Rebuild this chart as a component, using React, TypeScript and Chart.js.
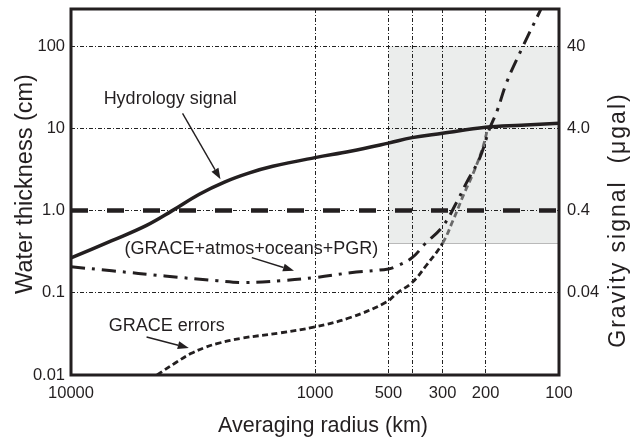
import React, { useEffect, useRef } from 'react';
import { Chart, registerables } from 'chart.js';

Chart.register(...registerables);

const FONT = '"Liberation Sans", Arial, Helvetica, sans-serif';
const INK = '#231f20';

// ---- axes / ticks ----
const xTickValues = [10000, 1000, 500, 400, 300, 200, 100];
const xTickLabels = ['10000', '1000', '500', '', '300', '200', '100'];
const yTickValues = [0.01, 0.1, 1, 10, 100];
const yTickLabels = ['0.01', '0.1', '1.0', '10', '100'];
const y2TickValues = [0.04, 0.4, 4, 40];
const y2TickLabels = ['0.04', '0.4', '4.0', '40'];

// ---- series (x = averaging radius km, y = water thickness cm) ----
const hydroRadius = [10000, 6800, 4900, 3860, 2980, 2350, 1870, 1490, 1000, 716, 500, 400, 300, 200, 143, 100];
const hydroValue = [0.265, 0.43, 0.66, 0.99, 1.58, 2.22, 2.85, 3.45, 4.4, 5.25, 6.6, 7.7, 8.7, 10.3, 10.9, 11.5];

const thresholdRadius = [10000, 100];
const thresholdValue = [1.0, 1.0];

const totalRadius = [10000, 6800, 4130, 2520, 1945, 1390, 1000, 716, 500, 459, 400, 352, 300, 263, 239, 211, 193, 179, 164, 143, 119, 110];
const totalValue = [0.207, 0.185, 0.16, 0.14, 0.133, 0.14, 0.153, 0.175, 0.195, 0.213, 0.267, 0.4, 0.64, 1.25, 2.2, 4.4, 9.7, 16.5, 36, 89, 275, 450];

const errRadius = [4440, 3740, 3230, 2800, 2520, 2000, 1390, 1000, 716, 510, 459, 400, 352, 300, 272, 245, 224, 205, 196];
const errValue = [0.01, 0.014, 0.0182, 0.0218, 0.0241, 0.028, 0.0325, 0.0385, 0.05, 0.077, 0.1, 0.133, 0.21, 0.4, 0.755, 1.6, 2.9, 5.9, 10];

// ---- shaded region ----
const shadeRadius = [500, 100];
const shadeValue = [0.4, 100];

// ---- annotations ----
const annoText = ['Hydrology signal', '(GRACE+atmos+oceans+PGR)', 'GRACE errors'];
const annoTextRadius = [7350, 6030, 7000];
const annoTextValue = [19.6, 0.299, 0.0343];
const arrowFromRadius = [3490, 1815, 4900];
const arrowFromValue = [15.2, 0.267, 0.029];
const arrowToRadius = [2440, 1219, 3290];
const arrowToValue = [2.4, 0.185, 0.0213];

const toPts = (xs: number[], ys: number[]) => xs.map((x, i) => ({ x, y: ys[i] }));

const decorPlugin = {
  id: 'decor',
  beforeDraw(chart: any) {
    const { ctx, scales } = chart;
    const x = scales.x, y = scales.y;
    const xa = x.getPixelForValue(shadeRadius[0]);
    const xb = x.getPixelForValue(shadeRadius[1]);
    const yt = y.getPixelForValue(shadeValue[1]);
    const yb = y.getPixelForValue(shadeValue[0]);
    ctx.save();
    ctx.fillStyle = '#ebedec';
    ctx.fillRect(Math.min(xa, xb), yt, Math.abs(xb - xa), yb - yt);
    ctx.strokeStyle = '#b9b9b9';
    ctx.lineWidth = 1;
    ctx.beginPath();
    ctx.moveTo(xa, Math.round(yb) + 0.5);
    ctx.lineTo(xb, Math.round(yb) + 0.5);
    ctx.stroke();
    ctx.restore();
  },
  afterDatasetsDraw(chart: any) {
    const { ctx, chartArea: a, scales } = chart;
    const x = scales.x, y = scales.y;
    ctx.save();
    // frame
    ctx.strokeStyle = INK;
    ctx.lineWidth = 3;
    ctx.strokeRect(a.left, a.top, a.right - a.left, a.bottom - a.top);
    // annotations
    ctx.fillStyle = INK;
    ctx.font = `18px ${FONT}`;
    ctx.textAlign = 'left';
    ctx.textBaseline = 'alphabetic';
    for (let i = 0; i < annoText.length; i++) {
      ctx.fillText(annoText[i], x.getPixelForValue(annoTextRadius[i]), y.getPixelForValue(annoTextValue[i]));
      const x0 = x.getPixelForValue(arrowFromRadius[i]);
      const y0 = y.getPixelForValue(arrowFromValue[i]);
      const x1 = x.getPixelForValue(arrowToRadius[i]);
      const y1 = y.getPixelForValue(arrowToValue[i]);
      const ang = Math.atan2(y1 - y0, x1 - x0);
      const hl = 11, hw = 4;
      const bx = x1 - hl * Math.cos(ang), by = y1 - hl * Math.sin(ang);
      ctx.strokeStyle = INK;
      ctx.lineWidth = 1.4;
      ctx.beginPath();
      ctx.moveTo(x0, y0);
      ctx.lineTo(bx, by);
      ctx.stroke();
      ctx.beginPath();
      ctx.moveTo(x1, y1);
      ctx.lineTo(bx + hw * Math.sin(ang), by - hw * Math.cos(ang));
      ctx.lineTo(bx - hw * Math.sin(ang), by + hw * Math.cos(ang));
      ctx.closePath();
      ctx.fill();
    }
    ctx.restore();
  },
  afterDraw(chart: any) {
    const { ctx, chartArea: a } = chart;
    ctx.save();
    ctx.fillStyle = INK;
    ctx.textAlign = 'center';
    ctx.textBaseline = 'alphabetic';
    // bottom title
    ctx.font = `21.5px ${FONT}`;
    ctx.fillText('Averaging radius (km)', (a.left + a.right) / 2 + 8, a.bottom + 57);
    // left title
    ctx.font = `23.5px ${FONT}`;
    ctx.save();
    ctx.translate(a.left - 39, (a.top + a.bottom) / 2 - 8);
    ctx.rotate(-Math.PI / 2);
    ctx.fillText('Water thickness (cm)', 0, 0);
    ctx.restore();
    // right title
    ctx.save();
    ctx.font = `23px ${FONT}`;
    try { (ctx as any).letterSpacing = '2px'; } catch (e) {}
    ctx.translate(a.right + 66, (a.top + a.bottom) / 2 + 28);
    ctx.rotate(-Math.PI / 2);
    ctx.fillText('Gravity signal  (\u03bcgal)', 0, 0);
    ctx.restore();
    ctx.restore();
  },
};

export default function App() {
  const ref = useRef<HTMLCanvasElement | null>(null);

  useEffect(() => {
    document.body.style.margin = '0';
    const canvas = ref.current;
    if (!canvas) return;
    const tickFont = { family: FONT, size: 16.5 };
    const chart = new Chart(canvas, {
      type: 'line',
      data: {
        datasets: [
          {
            label: 'Hydrology signal',
            data: toPts(hydroRadius, hydroValue),
            borderColor: INK,
            borderWidth: 3.5,
            pointRadius: 0,
            tension: 0.4,
            fill: false,
          },
          {
            label: 'Threshold',
            data: toPts(thresholdRadius, thresholdValue),
            borderColor: INK,
            borderWidth: 4.5,
            borderDash: [17, 19],
            pointRadius: 0,
            fill: false,
          },
          {
            label: 'GRACE+atmos+oceans+PGR',
            data: toPts(totalRadius, totalValue),
            borderColor: INK,
            borderWidth: 3,
            borderDash: [14, 7, 3, 7],
            pointRadius: 0,
            tension: 0.4,
            fill: false,
          },
          {
            label: 'GRACE errors',
            data: toPts(errRadius, errValue),
            borderColor: INK,
            borderWidth: 2.8,
            borderDash: [6, 3.5],
            pointRadius: 0,
            tension: 0.4,
            fill: false,
            segment: {
              borderColor: (c: any) => (c.p0.parsed.y >= 0.39 ? '#6a6a6a' : INK),
            },
          },
        ],
      } as any,
      options: {
        animation: false,
        responsive: false,
        events: [],
        layout: { padding: { top: 9, left: 0, right: 0, bottom: 0 } },
        plugins: {
          legend: { display: false },
          tooltip: { enabled: false },
          title: { display: false },
        },
        scales: {
          x: {
            type: 'logarithmic',
            position: 'bottom',
            reverse: true,
            min: 100,
            max: 10000,
            afterBuildTicks: (s: any) => {
              s.ticks = xTickValues.map((v) => ({ value: v }));
            },
            afterFit: (s: any) => {
              s.height = 63;
              s.paddingLeft = 0;
              s.paddingRight = 0;
            },
            ticks: {
              autoSkip: false,
              maxRotation: 0,
              minRotation: 0,
              padding: 9,
              color: INK,
              font: tickFont,
              callback: (v: any) => {
                const i = xTickValues.indexOf(Number(v));
                return i >= 0 ? xTickLabels[i] : '';
              },
            },
            grid: { color: '#222', lineWidth: 1, drawTicks: false },
            border: { display: false, dash: [4, 2, 1, 2] },
          },
          y: {
            type: 'logarithmic',
            position: 'left',
            min: 0.01,
            max: 282,
            afterBuildTicks: (s: any) => {
              s.ticks = yTickValues.map((v) => ({ value: v }));
            },
            afterFit: (s: any) => {
              s.width = 71;
              s.paddingTop = 0;
              s.paddingBottom = 0;
            },
            ticks: {
              autoSkip: false,
              padding: 6,
              color: INK,
              font: tickFont,
              callback: (v: any) => {
                const i = yTickValues.indexOf(Number(v));
                return i >= 0 ? yTickLabels[i] : '';
              },
            },
            grid: { color: '#222', lineWidth: 1, drawTicks: false },
            border: { display: false, dash: [4, 2, 1, 2] },
          },
          y2: {
            type: 'logarithmic',
            position: 'right',
            min: 0.004,
            max: 112.8,
            afterBuildTicks: (s: any) => {
              s.ticks = y2TickValues.map((v) => ({ value: v }));
            },
            afterFit: (s: any) => {
              s.width = 74;
              s.paddingTop = 0;
              s.paddingBottom = 0;
            },
            ticks: {
              autoSkip: false,
              padding: 8,
              color: INK,
              font: tickFont,
              callback: (v: any) => {
                const i = y2TickValues.indexOf(Number(v));
                return i >= 0 ? y2TickLabels[i] : '';
              },
            },
            grid: { display: false, drawTicks: false },
            border: { display: false },
          },
        },
      } as any,
      plugins: [decorPlugin],
    });
    return () => chart.destroy();
  }, []);

  return (
    <div style={{ width: 633, height: 438 }}>
      <canvas ref={ref} width={633} height={438} style={{ display: 'block' }} />
    </div>
  );
}
